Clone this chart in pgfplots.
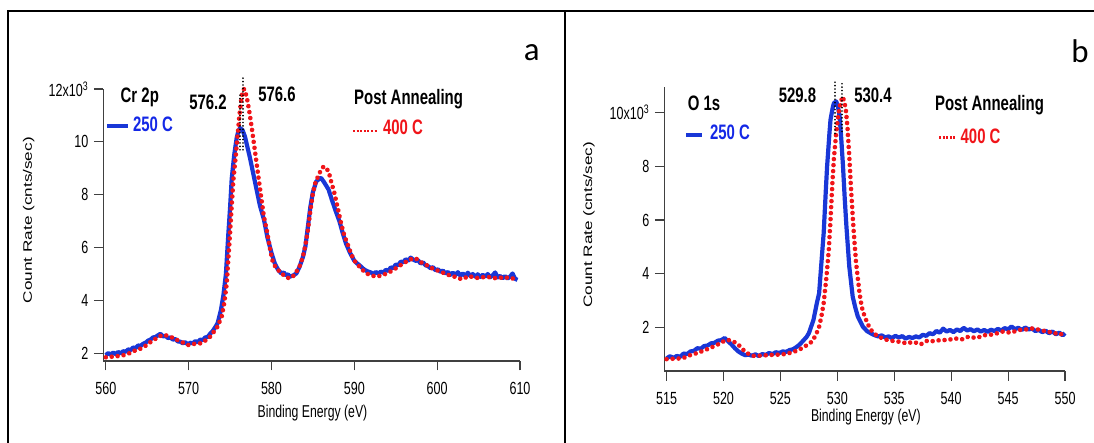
\documentclass[border=0pt]{standalone}
\usepackage{pgfplots}
\pgfplotsset{compat=1.18}
\usepackage{fontspec}
\setmainfont{Liberation Sans}
\newfontfamily\calfont{Carlito}
\definecolor{cblue}{RGB}{25,55,215}
\definecolor{cred}{RGB}{240,20,25}
\definecolor{ctxtblue}{RGB}{20,40,230}
\newcommand\vs[1]{\scalebox{1}[1.4]{#1}}
\newcommand\hs[1]{\scalebox{1.4}[1]{#1}}
\pgfplotsset{
  xpsstyle/.style={
    scale only axis,
    anchor=south west,
    axis x line*=bottom, axis y line*=left,
    axis line style={line width=1.1bp, black!75, -},
    tick align=outside,
    major tick length=9.5bp,
    tick style={line width=1.1bp, black!75},
    tick label style={font=\fontsize{12.6}{14}\selectfont},
    xticklabel style={yshift=-8bp},
    yticklabel style={xshift=-2bp},
    label style={font=\fontsize{12.3}{14}\selectfont},
    clip=false,
  },
  bl/.style={cblue, line width=4.2bp, line join=round},
  rd/.style={cred, line width=4.6bp, line cap=round, dash pattern=on 0.01bp off 6bp},
  vd/.style={black, line width=1.8bp, line cap=round, dash pattern=on 0.01bp off 3.4bp},
}
\begin{document}
\begin{tikzpicture}
\path[use as bounding box] (0,0) rectangle (1094bp,443bp);
% frame
\draw[line width=2bp] (7.5bp,-5bp) -- (7.5bp,432bp) -- (1100bp,432bp);
\draw[line width=2bp] (565bp,-5bp) -- (565bp,432bp);

% ---------------- panel a ----------------
\begin{axis}[xpsstyle,
  at={(103.3bp,82bp)}, width=416.7bp, height=272bp,
  xmin=559.7, xmax=610, ymin=1.71, ymax=12,
  xtick={560,570,580,590,600,610},
  xticklabels={\vs{560},\vs{570},\vs{580},\vs{590},\vs{600},\vs{610}},
  ytick={2,4,6,8,10,12},
  yticklabels={\vs{2},\vs{4},\vs{6},\vs{8},\vs{10},\vs{12x10\textsuperscript{3}}},
  xlabel={\vs{Binding Energy (eV)}},
  ylabel={\hs{Count Rate (cnts/sec)}},
  xlabel style={at={(axis description cs:0.502,-0.191)}, anchor=center},
  ylabel style={at={(axis description cs:-0.179,0.518)}, anchor=center},
]
\addplot[bl] coordinates {
(560.0,1.93) (560.3,2.01) (560.6,1.95) (560.9,2.03) (561.2,1.97) (561.5,2.05)
(561.8,2.00) (562.1,2.08) (562.4,2.06) (562.7,2.15) (563.0,2.12) (563.3,2.22)
(563.6,2.20) (563.9,2.30) (564.2,2.28) (564.5,2.36) (564.8,2.40) (565.1,2.48)
(565.4,2.52) (565.7,2.60) (566.0,2.62) (566.3,2.68) (566.6,2.74) (566.9,2.64)
(567.2,2.66) (567.5,2.58) (567.8,2.60) (568.1,2.52) (568.4,2.54) (568.7,2.45)
(569.0,2.44) (569.3,2.38) (569.6,2.42) (569.9,2.34) (570.2,2.40) (570.5,2.38)
(570.8,2.46) (571.1,2.42) (571.4,2.52) (571.7,2.50) (572.0,2.60) (572.3,2.62)
(572.6,2.74) (572.9,2.84) (573.2,2.98) (573.5,3.14) (573.9,3.64) (574.2,4.20)
(574.5,5.00) (574.8,6.55) (575.0,7.50) (575.2,8.60) (575.5,9.50) (575.8,10.15)
(576.0,10.40) (576.2,10.52) (576.5,10.45) (576.8,10.20) (577.1,9.80) (577.4,9.40)
(577.8,8.80) (578.2,8.20) (578.6,7.60) (579.1,7.05) (579.5,6.40) (580.0,5.80)
(580.4,5.40) (580.8,5.16) (581.2,5.02) (581.5,5.06) (581.7,4.95) (582.0,4.99)
(582.2,4.90) (582.6,4.94) (583.0,5.02) (583.4,5.28) (583.8,5.65) (584.1,6.05)
(584.4,6.80) (584.7,7.55) (585.0,8.10) (585.4,8.50) (585.8,8.62) (586.0,8.63)
(586.4,8.45) (586.9,8.19) (587.3,7.80) (587.7,7.43) (588.2,7.00) (588.6,6.55)
(589.0,6.15) (589.5,5.79) (590.0,5.50) (590.3,5.41) (590.6,5.34) (591.0,5.22)
(591.3,5.15) (591.6,5.10) (592.0,5.06) (592.3,5.00) (592.6,5.08) (592.9,5.01)
(593.2,5.09) (593.5,5.05) (593.8,5.16) (594.1,5.12) (594.4,5.25) (594.7,5.22)
(595.0,5.36) (595.3,5.33) (595.6,5.47) (595.9,5.44) (596.2,5.56) (596.5,5.50)
(596.8,5.62) (597.1,5.55) (597.4,5.50) (597.7,5.52) (598.0,5.40) (598.3,5.44)
(598.6,5.33) (598.9,5.30) (599.2,5.22) (599.5,5.26) (599.8,5.14) (600.1,5.18)
(600.4,5.08) (600.7,5.13) (601.0,5.02) (601.3,5.08) (601.6,4.97) (601.9,5.05)
(602.2,4.96) (602.5,5.07) (602.8,4.94) (603.1,5.02) (603.4,4.93) (603.7,5.05)
(604.0,4.92) (604.3,5.00) (604.6,4.90) (604.9,4.99) (605.2,4.89) (605.5,4.97)
(605.8,4.90) (606.1,5.00) (606.4,4.88) (606.7,4.95) (607.0,5.06) (607.3,4.87)
(607.6,4.93) (607.9,4.84) (608.2,4.92) (608.5,4.83) (608.8,4.90) (609.1,5.02)
(609.4,4.82) (609.7,4.78)
};
\addplot[rd] coordinates {
(560.0,1.85) (560.5,1.88) (561.0,1.86) (561.5,1.90) (562.0,1.92) (562.5,1.96)
(563.0,2.02) (563.5,2.10) (564.0,2.15) (564.5,2.22) (565.0,2.33) (565.5,2.45)
(566.0,2.55) (566.5,2.65) (567.0,2.70) (567.5,2.66) (568.0,2.60) (568.5,2.52)
(569.0,2.45) (569.5,2.38) (570.0,2.31) (570.5,2.35) (571.0,2.37) (571.5,2.38)
(572.0,2.48) (572.6,2.63) (573.0,2.80) (573.5,3.01) (574.0,3.40) (574.3,3.90)
(574.6,4.65) (575.0,6.55) (575.2,7.60) (575.4,8.56) (575.7,9.50) (575.9,10.20)
(576.1,10.90) (576.3,11.47) (576.5,11.90) (576.7,12.00) (577.0,11.72) (577.3,11.20)
(577.6,10.58) (577.9,9.90) (578.2,9.20) (578.5,8.50) (578.8,7.81) (579.1,7.15)
(579.5,6.55) (579.8,6.00) (580.1,5.53) (580.5,5.25) (581.0,5.09) (581.5,4.95)
(582.1,4.84) (582.5,4.88) (582.9,5.03) (583.4,5.30) (583.8,5.66) (584.1,6.10)
(584.4,6.67) (584.7,7.40) (585.0,8.06) (585.3,8.45) (585.7,8.75) (586.0,8.95)
(586.3,9.07) (586.6,9.00) (586.9,8.88) (587.2,8.50) (587.6,8.06) (588.0,7.50)
(588.4,6.92) (588.8,6.45) (589.3,6.04) (589.7,5.70) (590.1,5.47) (590.7,5.25)
(591.4,5.03) (592.0,4.95) (592.7,4.90) (593.3,4.95) (594.0,5.03) (594.7,5.15)
(595.3,5.28) (596.0,5.42) (596.6,5.53) (597.0,5.58) (597.4,5.60) (598.0,5.45)
(598.7,5.34) (599.5,5.20) (600.4,5.09) (601.2,4.98) (602.1,4.90) (603.0,4.80)
(603.8,4.92) (604.9,4.85) (606.0,4.90) (607.1,4.84) (608.2,4.88) (609.0,4.82)
(609.7,4.90)
};
\addplot[vd] coordinates {(576.2,9.7) (576.2,11.86)};
\addplot[vd] coordinates {(576.6,9.7) (576.6,12.43)};
\end{axis}

% ---------------- panel b ----------------
\begin{axis}[xpsstyle,
  at={(664.3bp,72bp)}, width=400.7bp, height=284.3bp,
  xmin=514.8, xmax=550, ymin=0.37, ymax=10.97,
  xtick={515,520,525,530,535,540,545,550},
  xticklabels={\vs{515},\vs{520},\vs{525},\vs{530},\vs{535},\vs{540},\vs{545},\vs{550}},
  ytick={2,4,6,8,10},
  yticklabels={\vs{2},\vs{4},\vs{6},\vs{8},\vs{10x10\textsuperscript{3}}},
  xlabel={\vs{Binding Energy (eV)}},
  ylabel={\hs{Count Rate (cnts/sec)}},
  xlabel style={at={(axis description cs:0.503,-0.161)}, anchor=center},
  ylabel style={at={(axis description cs:-0.188,0.514)}, anchor=center},
]
\addplot[bl] coordinates {
(515.0,0.84) (515.3,0.92) (515.6,0.86) (515.9,0.93) (516.2,0.90) (516.5,1.02)
(516.8,1.00) (517.1,1.10) (517.4,1.12) (517.7,1.22) (518.0,1.20) (518.3,1.30)
(518.6,1.32) (518.9,1.40) (519.2,1.42) (519.5,1.50) (519.8,1.52) (520.1,1.60)
(520.4,1.48) (520.7,1.36) (521.0,1.22) (521.3,1.10) (521.6,1.02) (521.9,0.96)
(522.2,0.98) (522.5,0.94) (522.8,0.99) (523.1,0.93) (523.4,1.00) (523.7,0.97)
(524.0,1.04) (524.3,1.00) (524.6,1.07) (524.9,1.04) (525.2,1.10) (525.5,1.08)
(525.8,1.15) (526.1,1.18) (526.4,1.26) (526.7,1.36) (527.0,1.50) (527.3,1.64)
(527.5,1.78) (527.9,2.27) (528.2,2.90) (528.4,3.27) (528.6,4.40)
(528.8,5.51) (529.0,7.20) (529.1,7.99) (529.3,9.20) (529.4,9.74) (529.6,10.20)
(529.7,10.36) (529.9,10.42) (530.05,10.25) (530.2,9.86) (530.35,9.00) (530.5,7.99)
(530.65,6.80) (530.8,5.75) (531.05,4.26) (531.35,3.14) (531.6,2.70) (531.8,2.40)
(532.25,2.02) (532.6,1.86) (533.0,1.76) (533.3,1.70) (533.6,1.66) (533.9,1.70)
(534.2,1.62) (534.5,1.66) (534.8,1.60) (535.1,1.68) (535.4,1.62) (535.7,1.67)
(536.0,1.58) (536.3,1.64) (536.6,1.60) (536.9,1.66) (537.2,1.62) (537.5,1.72)
(537.8,1.68) (538.1,1.78) (538.4,1.74) (538.7,1.86) (539.0,1.80) (539.3,1.95)
(539.6,1.84) (539.9,1.90) (540.2,1.82) (540.5,1.92) (540.8,1.86) (541.1,1.98)
(541.4,1.88) (541.7,1.93) (542.0,1.85) (542.3,1.92) (542.6,1.84) (542.9,1.90)
(543.2,1.83) (543.5,1.91) (543.8,1.86) (544.1,1.94) (544.4,1.88) (544.7,1.97)
(545.0,1.92) (545.3,2.03) (545.6,1.93) (545.9,1.98) (546.2,1.90) (546.5,1.99)
(546.8,1.92) (547.1,1.95) (547.4,1.86) (547.7,1.90) (548.0,1.82) (548.3,1.87)
(548.6,1.78) (548.9,1.84) (549.2,1.74) (549.5,1.80) (549.8,1.70) (550.0,1.78)
};
\addplot[rd] coordinates {
(515.0,0.81) (515.6,0.83) (516.4,0.84) (517.0,0.95) (517.6,1.03) (518.2,1.12)
(518.8,1.22) (519.3,1.32) (519.7,1.40) (520.1,1.50) (520.4,1.53) (520.8,1.48)
(521.2,1.40) (521.6,1.22) (521.9,1.09) (522.3,0.98) (522.7,0.93) (523.5,0.95)
(524.2,0.97) (524.8,0.98) (525.4,1.00) (526.0,1.06) (526.6,1.15) (527.2,1.30)
(527.75,1.46) (528.1,1.70) (528.4,2.02) (528.6,2.40) (528.8,2.90) (529.05,3.90)
(529.25,4.88) (529.4,6.00) (529.55,7.25) (529.7,8.30) (529.9,9.24) (530.05,9.80)
(530.2,10.23) (530.45,10.60) (530.6,10.45) (530.75,10.10) (530.9,9.40) (531.05,8.37)
(531.2,7.20) (531.35,6.13) (531.5,5.20) (531.65,4.39) (531.95,3.27) (532.15,2.75)
(532.4,2.40) (532.85,1.96) (533.2,1.78) (533.6,1.65) (534.35,1.53) (535.0,1.48)
(535.5,1.46) (536.1,1.40) (536.7,1.46) (537.3,1.36) (537.9,1.50) (538.5,1.48)
(539.1,1.53) (539.7,1.52) (540.3,1.59) (540.9,1.54) (541.5,1.65) (542.2,1.60)
(543.0,1.71) (543.7,1.73) (544.5,1.84) (545.2,1.80) (546.0,1.90) (546.6,1.92)
(547.2,1.96) (547.8,1.90) (548.4,1.84) (549.0,1.80) (549.5,1.72) (549.9,1.78)
};
\addplot[vd] coordinates {(529.8,9.23) (529.8,11.16)};
\addplot[vd] coordinates {(530.4,9.30) (530.4,11.20)};
\end{axis}

% ---------------- annotations ----------------
\begin{scope}[every node/.style={inner sep=0pt, font=\fontsize{15}{17}\selectfont\bfseries}]
\node at (139.8bp,345.7bp) {\vs{Cr 2p}};
\node at (208bp,340.7bp) {\vs{576.2}};
\node at (277bp,348.7bp) {\vs{576.6}};
\node at (408.6bp,344bp) {\vs{Post Annealing}};
\node[text=ctxtblue] at (153bp,318.7bp) {\vs{250 C}};
\node[text=cred] at (403bp,316bp) {\vs{400 C}};
\node at (704bp,339.7bp) {\vs{O 1s}};
\node at (797.5bp,347.3bp) {\vs{529.8}};
\node at (873bp,347.3bp) {\vs{530.4}};
\node at (989.5bp,337.7bp) {\vs{Post Annealing}};
\node[text=ctxtblue] at (730bp,310.3bp) {\vs{250 C}};
\node[text=cred] at (980.6bp,306.3bp) {\vs{400 C}};
\end{scope}
\draw[cblue, line width=3.8bp] (107bp,317.3bp) -- (128bp,317.3bp);
\draw[cblue, line width=3.8bp] (686bp,308bp) -- (702bp,308bp);
\draw[cred, line width=2.6bp, dash pattern=on 2bp off 1.6bp] (353bp,312bp) -- (378bp,312bp);
\draw[cred, line width=2.6bp, dash pattern=on 2bp off 1.6bp] (939bp,305.3bp) -- (956bp,305.3bp);
\node[inner sep=0pt, font=\calfont\fontsize{33}{36}\selectfont] at (531.7bp,390bp) {a};
\node[inner sep=0pt, font=\calfont\fontsize{33}{36}\selectfont] at (1080bp,392bp) {b};
\end{tikzpicture}
\end{document}
